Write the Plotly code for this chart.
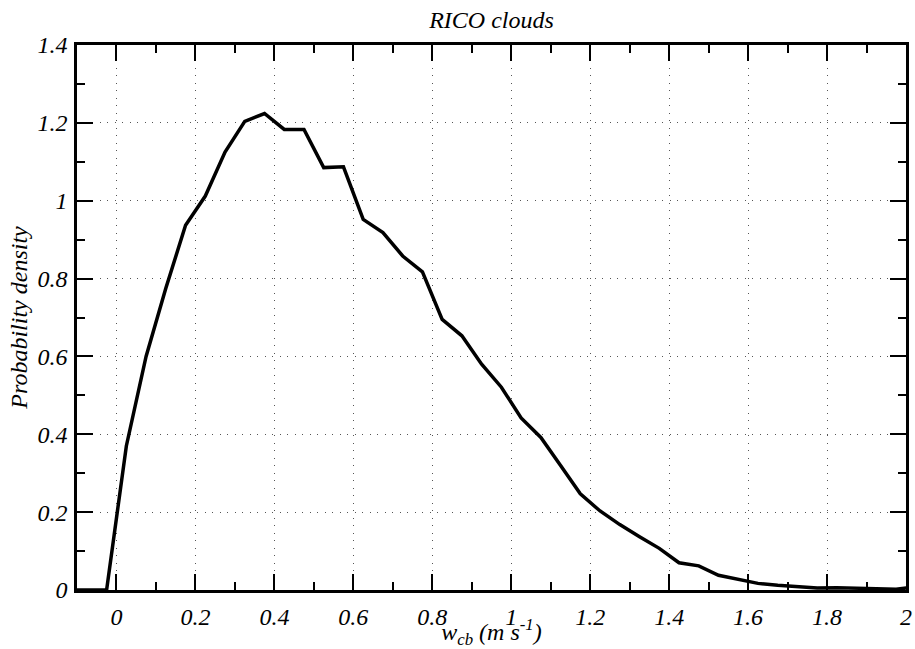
import plotly.graph_objects as go

w_cb = [-0.125, -0.075, -0.025, 0.025, 0.075, 0.125, 0.175, 0.225, 0.275, 0.325,
        0.375, 0.425, 0.475, 0.525, 0.575, 0.625, 0.675, 0.725, 0.775, 0.825,
        0.875, 0.925, 0.975, 1.025, 1.075, 1.125, 1.175, 1.225, 1.275, 1.325,
        1.375, 1.425, 1.475, 1.525, 1.575, 1.625, 1.675, 1.725, 1.775, 1.825,
        1.875, 1.925, 1.975, 2.025]
pdf = [0.0, 0.0, 0.0, 0.37, 0.60, 0.775, 0.937, 1.012, 1.125, 1.204,
       1.224, 1.183, 1.183, 1.085, 1.087, 0.952, 0.918, 0.858, 0.817, 0.695,
       0.653, 0.580, 0.521, 0.442, 0.392, 0.320, 0.247, 0.203, 0.168, 0.137,
       0.107, 0.070, 0.062, 0.038, 0.027, 0.017, 0.012, 0.008, 0.005, 0.006,
       0.004, 0.002, 0.002, 0.008]

x_ticks = [0, 0.2, 0.4, 0.6, 0.8, 1, 1.2, 1.4, 1.6, 1.8, 2]
x_labels = ["0", "0.2", "0.4", "0.6", "0.8", "1", "1.2", "1.4", "1.6", "1.8", "2"]
y_ticks = [0, 0.2, 0.4, 0.6, 0.8, 1, 1.2, 1.4]
y_labels = ["0", "0.2", "0.4", "0.6", "0.8", "1", "1.2", "1.4"]

FONT = "Liberation Serif, Times New Roman, serif"
SIZE = 24

fig = go.Figure()
fig.add_trace(go.Scatter(x=w_cb, y=pdf, mode="lines",
                         line=dict(color="black", width=3.5),
                         showlegend=False))

axis_common = dict(
    showline=True, linecolor="black", linewidth=2.5, mirror="ticks",
    ticks="inside", ticklen=16, tickwidth=2, tickcolor="black",
    showgrid=True, gridcolor="#555", gridwidth=1, griddash="1px,6.5px",
    zeroline=False,
    tickfont=dict(family=FONT, size=SIZE, color="black"),
    minor=dict(ticks="inside", ticklen=8, tickwidth=2, tickcolor="black",
               dtick=0.1, tick0=0, showgrid=False),
)

fig.update_xaxes(range=[-0.1, 2], tickmode="array", tickvals=x_ticks,
                 ticktext=["<i>%s</i>" % t for t in x_labels], **axis_common,
                 title=dict(text="<i>w<sub>cb</sub> (m s<sup>-1</sup>)</i>",
                            font=dict(family=FONT, size=SIZE, color="black"),
                            standoff=0),
                 ticklabelstandoff=3)
fig.update_yaxes(range=[0, 1.4], tickmode="array", tickvals=y_ticks,
                 ticktext=["<i>%s</i>" % t for t in y_labels], **axis_common,
                 title=dict(text="<i>Probability density</i>",
                            font=dict(family=FONT, size=SIZE, color="black"),
                            standoff=4),
                 ticklabelstandoff=2)

fig.update_layout(
    width=915, height=649,
    margin=dict(l=77, r=3, t=45, b=59),
    paper_bgcolor="white", plot_bgcolor="white",
    title=dict(text="<i>RICO clouds</i>", x=0.5, xref="paper", xanchor="center",
               y=1 - 20 / 649, yref="container", yanchor="middle",
               font=dict(family=FONT, size=SIZE, color="black")),
)

fig.write_html("out.html")
